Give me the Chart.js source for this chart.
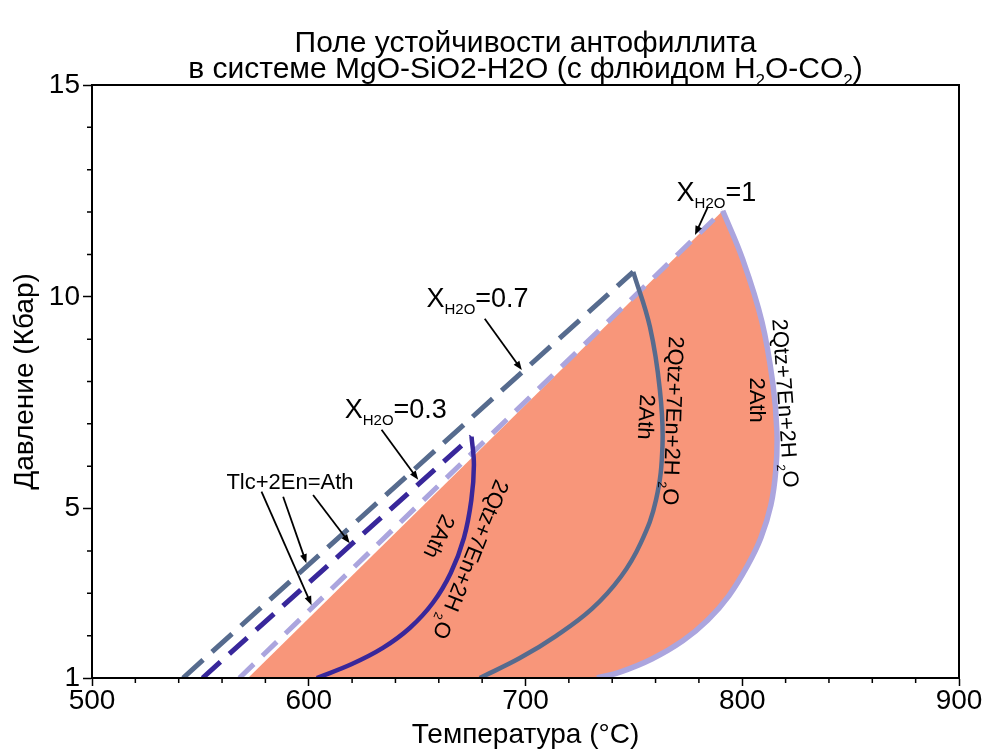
<!DOCTYPE html>
<html>
<head>
<meta charset="utf-8">
<script src="https://cdn.jsdelivr.net/npm/chart.js@4.4.1/dist/chart.umd.min.js"></script>
<style>
  html, body { margin: 0; padding: 0; background: #fff; }
  #wrap { width: 987px; height: 751px; }
</style>
</head>
<body>
<div id="wrap"><canvas id="phase" width="987" height="751"></canvas></div>
<script>
// Tlc+2En=Ath boundaries (T, °C / P, kbar) for X(H2O) = 1, 0.7, 0.3
const tlc10T = [568, 791];
const tlc10P = [1, 12.03];
const tlc07T = [542, 749.7];
const tlc07P = [1, 10.59];
const tlc03T = [551, 675.1];
const tlc03P = [1, 6.7];

// 2Qtz+7En+2H2O=2Ath curves, from the upper corner down to 1 kbar
const rxn10T = [791.0, 800.3, 809.1, 814.2, 816.0, 815.5, 813.2, 808.6, 802.6, 793.8, 784.1, 772.6, 758.3, 743.6, 733.0];
const rxn10P = [12.03, 10.87, 9.41, 7.92, 6.81, 5.91, 5.08, 4.31, 3.67, 2.94, 2.37, 1.88, 1.45, 1.14, 1.0];
const rxn07T = [749.7, 757.4, 762.0, 763.2, 760.2, 753.2, 744.0, 730.6, 714.0, 697.4, 678.9];
const rxn07P = [10.59, 9.29, 7.80, 6.50, 5.20, 4.19, 3.39, 2.63, 1.99, 1.47, 1.0];
const rxn03T = [675.1, 676.2, 675.0, 671.6, 665.5, 657.2, 646.6, 634.2, 619.9, 603.7];
const rxn03P = [6.70, 6.03, 5.20, 4.31, 3.48, 2.77, 2.18, 1.71, 1.33, 1.0];

// anthophyllite field (X(H2O)=1) starts here on the 1 kbar line
const fieldStartT = 572;

// axis ticks
const xTicks = [500, 600, 700, 800, 900];
const yTicks = [1, 5, 10, 15];

// X(H2O) labels and their arrows
const xhLabelVal = ['=1', '=0.7', '=0.3'];
const xhLabelT = [769.7, 654.3, 616.6];
const xhLabelP = [12.27, 9.77, 7.13];
const arrowFromT = [784.2, 681.2, 633.6, 578.2, 588.2, 602.0];
const arrowFromP = [12.13, 9.48, 6.86, 5.40, 5.28, 5.32];
const arrowToT = [778.2, 698.3, 650.5, 601.3, 598.9, 618.9];
const arrowToP = [11.46, 8.27, 5.68, 2.72, 3.71, 4.18];

// reaction labels along the curves (X=0.3, 0.7, 1)
const qtzLabelT = [675.0, 768.5, 820.2];
const qtzLabelP = [3.79, 7.07, 7.49];
const qtzLabelAngle = [112, 92, 86];
const athLabelT = [660.5, 756.0, 807.2];
const athLabelP = [4.33, 7.16, 7.56];
const athLabelAngle = [115, 93, 90];

const FONT = "'Liberation Sans', Arial, Helvetica, sans-serif";
const SALMON = '#f8967a';
const LAVENDER = '#aba5de';
const SLATE = '#566b8e';
const NAVY = '#38279b';

const pts = (ts, ps) => ts.map((t, i) => ({ x: t, y: ps[i] }));

// draws a string made of normal and subscript runs;
// hAlign 'left' or 'center', mid = true puts the text's middle on y
function richText(ctx, x, y, runs, size, angle, hAlign, mid) {
  const subSize = Math.round(size * 0.56);
  ctx.save();
  ctx.translate(x, y);
  ctx.rotate(angle * Math.PI / 180);
  ctx.fillStyle = '#000';
  ctx.textAlign = 'left';
  ctx.textBaseline = 'alphabetic';
  let w = 0;
  runs.forEach(r => {
    ctx.font = `${r.sub ? subSize : size}px ${FONT}`;
    w += ctx.measureText(r.text).width;
  });
  let cx = hAlign === 'center' ? -w / 2 : 0;
  const dy = mid ? size * 0.36 : 0;
  runs.forEach(r => {
    ctx.font = `${r.sub ? subSize : size}px ${FONT}`;
    ctx.fillText(r.text, cx, dy + (r.sub ? size * 0.26 : 0));
    cx += ctx.measureText(r.text).width;
  });
  ctx.restore();
}

function arrow(ctx, x0, y0, x1, y1) {
  const a = Math.atan2(y1 - y0, x1 - x0);
  const len = 9, half = 3.5;
  ctx.save();
  ctx.strokeStyle = '#000';
  ctx.fillStyle = '#000';
  ctx.lineWidth = 1.8;
  ctx.beginPath();
  ctx.moveTo(x0, y0);
  ctx.lineTo(x1 - Math.cos(a) * len * 0.8, y1 - Math.sin(a) * len * 0.8);
  ctx.stroke();
  ctx.translate(x1, y1);
  ctx.rotate(a);
  ctx.beginPath();
  ctx.moveTo(0, 0);
  ctx.lineTo(-len, -half);
  ctx.lineTo(-len, half);
  ctx.closePath();
  ctx.fill();
  ctx.restore();
}

const overlay = {
  id: 'overlay',
  afterDatasetsDraw(chart) {
    const ctx = chart.ctx;
    const sx = chart.scales.x, sy = chart.scales.y;
    const px = t => sx.getPixelForValue(t);
    const py = p => sy.getPixelForValue(p);

    xhLabelVal.forEach((v, i) => {
      richText(ctx, px(xhLabelT[i]), py(xhLabelP[i]),
        [{ text: 'X' }, { text: 'H2O', sub: true }, { text: v }], 27, 0, 'left', false);
    });

    ctx.save();
    ctx.font = `22px ${FONT}`;
    ctx.fillStyle = '#000';
    ctx.textAlign = 'left';
    ctx.textBaseline = 'alphabetic';
    ctx.fillText('Tlc+2En=Ath', px(562), py(5.46));
    ctx.restore();

    arrowFromT.forEach((t, i) => {
      arrow(ctx, px(t), py(arrowFromP[i]), px(arrowToT[i]), py(arrowToP[i]));
    });

    qtzLabelT.forEach((t, i) => {
      richText(ctx, px(t), py(qtzLabelP[i]),
        [{ text: '2Qtz+7En+2H ' }, { text: '2', sub: true }, { text: 'O' }], 22, qtzLabelAngle[i], 'center', true);
      richText(ctx, px(athLabelT[i]), py(athLabelP[i]),
        [{ text: '2Ath' }], 22, athLabelAngle[i], 'center', true);
    });
  },
  afterDraw(chart) {
    const ctx = chart.ctx;
    const a = chart.chartArea;
    const sx = chart.scales.x, sy = chart.scales.y;
    ctx.save();
    ctx.strokeStyle = '#000';
    ctx.lineWidth = 2;
    ctx.strokeRect(a.left, a.top, a.right - a.left, a.bottom - a.top);
    // minor ticks
    ctx.lineWidth = 1.5;
    ctx.beginPath();
    for (let t = 520; t < 900; t += 20) {
      if (t % 100 === 0) continue;
      const x = sx.getPixelForValue(t);
      ctx.moveTo(x, a.bottom);
      ctx.lineTo(x, a.bottom + 5);
    }
    for (let p = 2; p < 15; p++) {
      if (yTicks.includes(p)) continue;
      const y = sy.getPixelForValue(p);
      ctx.moveTo(a.left, y);
      ctx.lineTo(a.left - 5, y);
    }
    ctx.stroke();
    ctx.restore();

    // two-line title
    const cx = (a.left + a.right) / 2;
    richText(ctx, cx, 52, [{ text: 'Поле устойчивости антофиллита' }], 30, 0, 'center', false);
    richText(ctx, cx, 78, [
      { text: 'в системе MgO-SiO2-H2O (с флюидом H' }, { text: '2', sub: true },
      { text: 'O-CO' }, { text: '2', sub: true }, { text: ')' }
    ], 30, 0, 'center', false);
  }
};

const lineDs = (data, color, width, dash, order, tension) => ({
  data, showLine: true, borderColor: color, borderWidth: width,
  borderDash: dash, pointRadius: 0, fill: false, order, tension: tension || 0
});

new Chart(document.getElementById('phase'), {
  type: 'scatter',
  data: {
    datasets: [
      {
        data: [{ x: fieldStartT, y: 1 }, ...pts(rxn10T, rxn10P)],
        showLine: true, fill: 'shape', backgroundColor: SALMON,
        borderWidth: 0, pointRadius: 0, order: 10
      },
      lineDs(pts(tlc10T, tlc10P), LAVENDER, 5, [20, 12], 6),
      lineDs(pts(tlc07T, tlc07P), SLATE, 5, [27, 12], 5),
      lineDs(pts(tlc03T, tlc03P), NAVY, 5, [24, 12], 4),
      lineDs(pts(rxn10T, rxn10P), LAVENDER, 5.5, [], 3, 0.4),
      lineDs(pts(rxn07T, rxn07P), SLATE, 4.5, [], 2, 0.4),
      lineDs(pts(rxn03T, rxn03P), NAVY, 4.5, [], 1, 0.4)
    ]
  },
  options: {
    responsive: false,
    animation: false,
    devicePixelRatio: 1,
    layout: { padding: { top: 85, right: 28, left: 0, bottom: 0 } },
    plugins: { legend: { display: false }, tooltip: { enabled: false } },
    scales: {
      x: {
        type: 'linear', min: 500, max: 900,
        afterBuildTicks: s => { s.ticks = xTicks.map(v => ({ value: v })); },
        ticks: { color: '#000', font: { family: FONT, size: 28, lineHeight: 1.1 }, padding: 0, maxRotation: 0 },
        grid: { drawOnChartArea: false, tickLength: 8, tickWidth: 1.5, tickColor: '#000' },
        border: { color: '#000', width: 2 },
        title: { display: true, text: 'Температура (°C)', color: '#000', font: { family: FONT, size: 28, lineHeight: 1.1 }, padding: 0 },
        afterFit: s => { s.height = 73; }
      },
      y: {
        type: 'linear', min: 1, max: 15,
        afterBuildTicks: s => { s.ticks = yTicks.map(v => ({ value: v })); },
        ticks: { color: '#000', font: { family: FONT, size: 28, lineHeight: 1.1 }, padding: 3 },
        grid: { drawOnChartArea: false, tickLength: 9, tickWidth: 1.5, tickColor: '#000' },
        border: { color: '#000', width: 2 },
        title: { display: true, text: 'Давление (Кбар)', color: '#000', font: { family: FONT, size: 28, lineHeight: 1.1 }, padding: { top: 10, bottom: 0 } },
        afterFit: s => { s.width = 92; }
      }
    }
  },
  plugins: [overlay]
});
</script>
</body>
</html>
